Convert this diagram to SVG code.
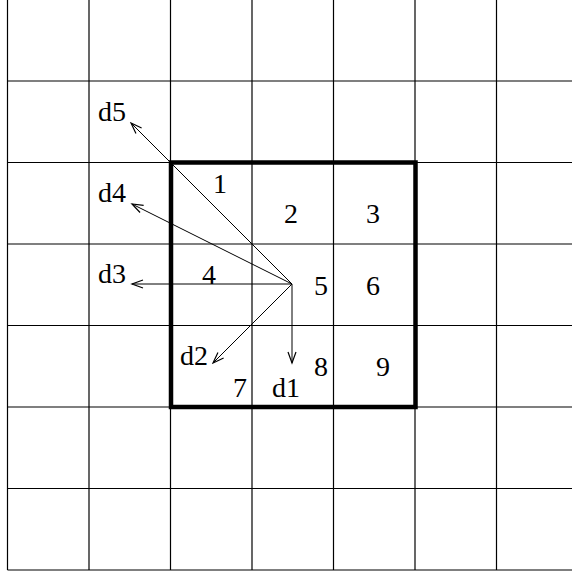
<svg xmlns="http://www.w3.org/2000/svg" width="572" height="573" viewBox="0 0 572 573">
<style>
.grid line{stroke:#000;stroke-width:1.2}
.box{fill:none;stroke:#000;stroke-width:4.5}
.arr{stroke:#000;stroke-width:1;fill:none}
text{font-family:"Liberation Serif","Times New Roman",serif;font-size:28px;fill:#000}
.c{text-anchor:middle}
</style>
<defs>
<marker id="ah" markerWidth="14" markerHeight="10" refX="12" refY="5" orient="auto" markerUnits="userSpaceOnUse">
<path d="M1,1 L12,5 L1,9" fill="none" stroke="#000" stroke-width="1.2"/>
</marker>
</defs>
<rect width="572" height="573" fill="#fff"/>
<g id="grid" class="grid">
<line x1="7.5" y1="0" x2="7.5" y2="570"/>
<line x1="89" y1="0" x2="89" y2="570"/>
<line x1="170.5" y1="0" x2="170.5" y2="570"/>
<line x1="252" y1="0" x2="252" y2="570"/>
<line x1="333.5" y1="0" x2="333.5" y2="570"/>
<line x1="415" y1="0" x2="415" y2="570"/>
<line x1="496.5" y1="0" x2="496.5" y2="570"/>
<line x1="7.5" y1="81" x2="572" y2="81"/>
<line x1="7.5" y1="162.5" x2="572" y2="162.5"/>
<line x1="7.5" y1="244" x2="572" y2="244"/>
<line x1="7.5" y1="325.5" x2="572" y2="325.5"/>
<line x1="7.5" y1="407" x2="572" y2="407"/>
<line x1="7.5" y1="488.5" x2="572" y2="488.5"/>
<line x1="7.5" y1="570" x2="572" y2="570"/>
</g>
<g id="block">
<rect class="box" x="171" y="162.5" width="244.5" height="244.5"/>
</g>
<g id="cells">
<text class="c" x="220" y="193">1</text>
<text class="c" x="291" y="223">2</text>
<text class="c" x="373" y="223">3</text>
<text class="c" x="209" y="284">4</text>
<text class="c" x="321" y="295">5</text>
<text class="c" x="373" y="295">6</text>
<text class="c" x="240" y="397">7</text>
<text class="c" x="321" y="376">8</text>
<text class="c" x="383" y="376">9</text>
</g>
<g id="connectors">
<line class="arr" x1="292" y1="284" x2="131" y2="123" marker-end="url(#ah)"/>
<line class="arr" x1="292" y1="284" x2="132" y2="204" marker-end="url(#ah)"/>
<line class="arr" x1="292" y1="284" x2="132" y2="284" marker-end="url(#ah)"/>
<line class="arr" x1="292" y1="284" x2="213" y2="363" marker-end="url(#ah)"/>
<line class="arr" x1="292" y1="284" x2="292" y2="363" marker-end="url(#ah)"/>
</g>
<g id="labels">
<text x="98" y="121">d5</text>
<text x="98" y="202">d4</text>
<text x="98" y="283">d3</text>
<text x="180" y="365">d2</text>
<text x="272" y="397">d1</text>
</g>
</svg>
